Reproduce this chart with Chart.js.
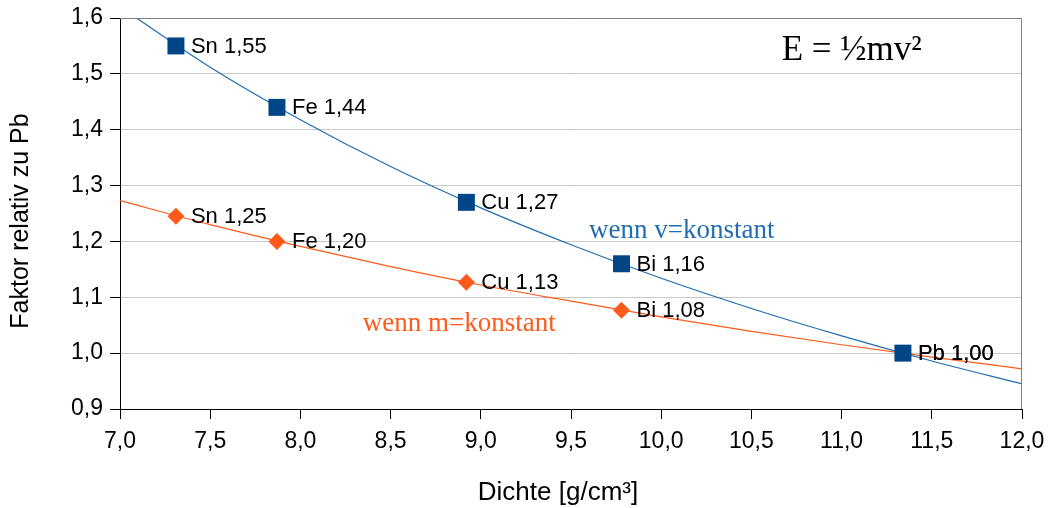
<!DOCTYPE html>
<html><head><meta charset="utf-8">
<script src="https://cdn.jsdelivr.net/npm/chart.js@4/dist/chart.umd.min.js"></script>
<style>html,body{margin:0;padding:0;background:#fff}#w{width:1049px;height:508px}</style>
</head><body><div id="w"><canvas id="c"></canvas></div>
<script>
const elements = ["Sn","Fe","Cu","Bi","Pb"];
const density = [7.31, 7.87, 8.92, 9.78, 11.34];
const factorV = [1.55, 1.44, 1.27, 1.16, 1.00];
const factorM = [1.245, 1.20, 1.127, 1.077, 1.00];
const labelV = ["1,55","1,44","1,27","1,16","1,00"];
const labelM = ["1,25","1,20","1,13","1,08","1,00"];
const curveX = [7.0, 7.5, 8.0, 8.5, 9.0, 9.5, 10.0, 10.5, 11.0, 11.5, 12.0];
const curveV = [1.62, 1.512, 1.418, 1.334, 1.26, 1.194, 1.134, 1.08, 1.031, 0.986, 0.945];
const curveM = [1.273, 1.230, 1.191, 1.155, 1.122, 1.093, 1.065, 1.039, 1.015, 0.993, 0.972];
const xTicks = [7.0,7.5,8.0,8.5,9.0,9.5,10.0,10.5,11.0,11.5,12.0];
const yTicks = [0.9,1.0,1.1,1.2,1.3,1.4,1.5,1.6];
const xTitle = 'Dichte [g/cm³]';
const yTitle = 'Faktor relativ zu Pb';

const blue = '#004586', blueLine = '#1f6cb0', orange = '#ff5a1a';
const sans = '"Liberation Sans", Arial, sans-serif';
const serif = '"Liberation Serif", "Times New Roman", serif';
const fmt = v => v.toFixed(1).replace('.', ',');
const pts = (xs, ys) => xs.map((x,i)=>({x, y: ys[i]}));

const labelsPlugin = {
  id: 'labels',
  afterDatasetsDraw(chart) {
    const {ctx, chartArea: a, scales: {x, y}} = chart;
    ctx.save();
    ctx.font = '22px ' + sans;
    ctx.fillStyle = '#000';
    ctx.textBaseline = 'middle';
    ctx.textAlign = 'left';
    density.forEach((d,i)=>{
      ctx.fillText(elements[i] + ' ' + labelM[i], x.getPixelForValue(d) + 15, y.getPixelForValue(factorM[i]) + 1);
      ctx.fillText(elements[i] + ' ' + labelV[i], x.getPixelForValue(d) + 15, y.getPixelForValue(factorV[i]) + 1);
    });
    ctx.textAlign = 'center';
    ctx.font = '35px ' + serif;
    ctx.fillText('E = ½mv²', x.getPixelForValue(11.056), y.getPixelForValue(1.542));
    ctx.font = '27px ' + serif;
    ctx.fillStyle = blueLine;
    ctx.fillText('wenn v=konstant', x.getPixelForValue(10.114), y.getPixelForValue(1.218));
    ctx.fillStyle = orange;
    ctx.fillText('wenn m=konstant', x.getPixelForValue(8.88), y.getPixelForValue(1.052));
    ctx.fillStyle = '#000';
    ctx.font = '26px ' + sans;
    ctx.textBaseline = 'alphabetic';
    ctx.fillText(xTitle, 558, 500);
    ctx.save();
    ctx.translate(21, 221);
    ctx.rotate(-Math.PI/2);
    ctx.font = '25px ' + sans;
    ctx.textBaseline = 'middle';
    ctx.fillText(yTitle, 0, 0);
    ctx.restore();
    ctx.strokeStyle = '#808080';
    ctx.lineWidth = 1;
    ctx.beginPath();
    ctx.moveTo(a.left, Math.round(a.top)+0.5);
    ctx.lineTo(Math.round(a.right)-0.5, Math.round(a.top)+0.5);
    ctx.lineTo(Math.round(a.right)-0.5, a.bottom);
    ctx.stroke();
    ctx.restore();
  }
};

new Chart(document.getElementById('c'), {
  type: 'scatter',
  data: {
    datasets: [
      { data: pts(curveX, curveV), showLine: true, borderColor: blueLine, borderWidth: 1.2, pointRadius: 0, cubicInterpolationMode: 'monotone', order: 3 },
      { data: pts(curveX, curveM), showLine: true, borderColor: orange, borderWidth: 1.2, pointRadius: 0, cubicInterpolationMode: 'monotone', order: 4 },
      { data: pts(density, factorM), showLine: false, pointStyle: 'rectRot', pointRadius: 8.5, backgroundColor: orange, borderColor: orange, borderWidth: 0, order: 2 },
      { data: pts(density, factorV), showLine: false, pointStyle: 'rect', pointRadius: 12, backgroundColor: blue, borderColor: blue, borderWidth: 0, order: 1 }
    ]
  },
  options: {
    responsive: true, maintainAspectRatio: false, animation: false,
    layout: { padding: { left: 0, right: 27, top: 18, bottom: 0 } },
    plugins: { legend: { display: false }, tooltip: { enabled: false } },
    scales: {
      x: {
        type: 'linear', min: 7, max: 12,
        afterBuildTicks: s => { s.ticks = xTicks.map(v=>({value:v})); },
        afterFit: s => { s.height = 99; s.paddingLeft = 0; s.paddingRight = 0; },
        ticks: { callback: v => fmt(v), color: '#000', font: { size: 23, family: sans }, padding: 9, maxRotation: 0 },
        grid: { drawOnChartArea: false, tickLength: 10, tickColor: '#000', color: '#000' },
        border: { color: '#000', width: 1 },
        title: { display: false }
      },
      y: {
        type: 'linear', min: 0.9, max: 1.6,
        afterBuildTicks: s => { s.ticks = yTicks.map(v=>({value:v})); },
        afterFit: s => { s.width = 120; s.paddingTop = 0; s.paddingBottom = 0; },
        ticks: { callback: v => fmt(v), color: '#000', font: { size: 23, family: sans }, padding: 7 },
        grid: { color: '#c8c8c8', tickLength: 10, tickColor: '#000', lineWidth: 1 },
        border: { color: '#000', width: 1 },
        title: { display: false }
      }
    }
  },
  plugins: [labelsPlugin]
});
</script></body></html>
